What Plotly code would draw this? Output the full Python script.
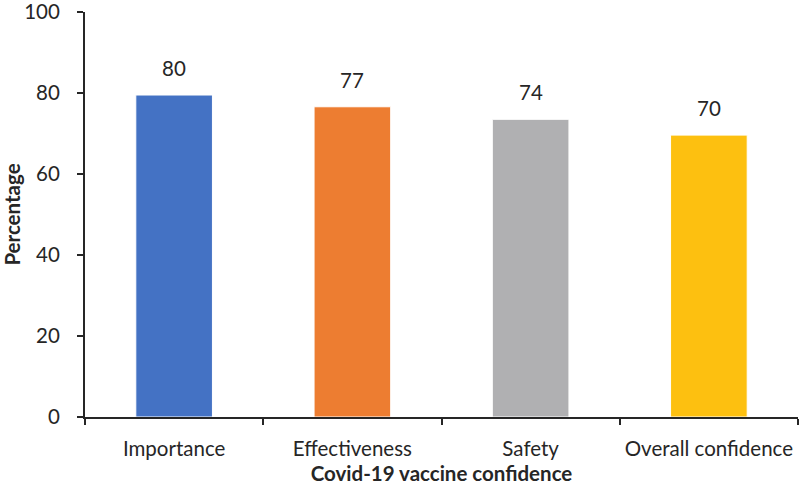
import plotly.graph_objects as go

categories = ["Importance", "Effectiveness", "Safety", "Overall confidence"]
values = [79.5, 76.6, 73.5, 69.6]
labels = ["80", "77", "74", "70"]
colors = ["#4472C4", "#ED7D31", "#B0B0B2", "#FDC010"]

FONT = "Lato"
FS = 20.5
fig = go.Figure()
fig.add_trace(go.Bar(
    x=categories, y=values,
    marker=dict(color=colors, line=dict(color="white", width=1)),
    width=0.43,
    hoverinfo="skip",
))
for c, v, t in zip(categories, values, labels):
    fig.add_annotation(x=c, y=v, text=t, showarrow=False, yanchor="bottom",
                       yshift=13, font=dict(family=FONT, size=FS, color="#262626"))

fig.update_layout(
    width=800, height=494,
    margin=dict(l=85, r=2, t=12, b=77),
    plot_bgcolor="white", paper_bgcolor="white",
    showlegend=False,
    font=dict(family=FONT, size=FS, color="#262626"),
    xaxis=dict(
        type="category", range=[-0.5, 3.5], automargin=False, tickangle=0,
        showline=True, linecolor="#262626", linewidth=2,
        ticks="outside", tickson="boundaries", ticklen=6, tickwidth=2, tickcolor="#262626",
        showgrid=False, ticklabelstandoff=12, ticklabeloverflow="allow",
        title=dict(text="<b>Covid-19 vaccine confidence</b>", font=dict(family=FONT, size=FS, color="#262626"), standoff=8),
    ),
    yaxis=dict(
        range=[0, 100], tickvals=[0, 20, 40, 60, 80, 100], automargin=False,
        showline=True, linecolor="#262626", linewidth=2,
        ticks="outside", ticklen=6, tickwidth=2, tickcolor="#262626",
        showgrid=False, zeroline=False, ticklabelstandoff=13, ticklabeloverflow="allow",
        title=dict(text="<b>Percentage</b>", font=dict(family=FONT, size=FS, color="#262626"), standoff=12),
    ),
)
fig.write_html("out.html", config={"displayModeBar": False},
               post_script="document.body.style.margin='0';document.body.style.overflow='hidden';")
